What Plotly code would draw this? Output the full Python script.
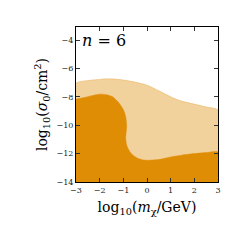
import plotly.graph_objects as go

# Light (outer) region upper boundary
light_x = [-3.0, -2.5, -2.0, -1.8, -1.4, -1.0, -0.5, 0.0, 0.5, 1.0, 1.4, 2.0, 2.5, 3.0]
light_y = [-7.06, -6.86, -6.78, -6.74, -6.75, -6.82, -6.97, -7.18, -7.58, -8.0, -8.28, -8.52, -8.72, -8.94]

# Dark (inner) region boundary (S-shaped curve)
dark_x = [-3.0, -2.8, -2.6, -2.3, -2.0, -1.7, -1.45, -1.2, -1.0, -0.9, -0.86, -0.88, -0.9, -0.86, -0.75, -0.6, -0.4, -0.2, 0.0, 0.5, 1.0, 1.5, 2.0, 2.5, 3.0]
dark_y = [-8.19, -8.1, -8.03, -7.9, -7.81, -7.85, -8.0, -8.4, -8.9, -9.4, -10.0, -10.5, -10.9, -11.4, -11.8, -12.1, -12.32, -12.43, -12.47, -12.42, -12.24, -12.1, -12.0, -11.93, -11.88]

y_floor = -14.0
x_ticks = [-3, -2, -1, 0, 1, 2, 3]
y_ticks = [-14, -12, -10, -8, -6, -4]
panel_label = "<i>n</i> = 6"

DARK = "#DF8D05"
LIGHT = "#F2D29C"

fig = go.Figure()
fig.add_trace(go.Scatter(
    x=[light_x[0]] + light_x + [light_x[-1]],
    y=[y_floor] + light_y + [y_floor],
    fill="toself", fillcolor=LIGHT, mode="lines",
    line=dict(color="#EDBE73", width=0.8, shape="spline", smoothing=0.6),
    hoverinfo="skip", showlegend=False))
fig.add_trace(go.Scatter(
    x=[dark_x[0]] + dark_x + [dark_x[-1]],
    y=[y_floor] + dark_y + [y_floor],
    fill="toself", fillcolor=DARK, mode="lines",
    line=dict(color=DARK, width=0.5, shape="spline", smoothing=0.6),
    hoverinfo="skip", showlegend=False))

serif = "DejaVu Serif, serif"
axis_common = dict(
    showgrid=False, zeroline=False, showline=True, linecolor="black", linewidth=1,
    mirror="ticks", ticks="inside", ticklen=4, tickwidth=1, tickcolor="#333",
    tickfont=dict(family=serif, size=8, color="#222"),
)
fig.update_xaxes(range=[-3, 3], tickvals=x_ticks, ticktext=["−3", "−2", "−1", "0", "1", "2", "3"],
                 title=dict(text="log<sub>10</sub>(<i>m</i><sub>χ</sub>/GeV)",
                            font=dict(family=serif, size=14, color="black"), standoff=8),
                 **axis_common)
fig.update_yaxes(range=[-14, -3.08], tickvals=y_ticks, ticktext=["−14", "−12", "−10", "−8", "−6", "−4"],
                 title=dict(text="log<sub>10</sub>(<i>σ</i><sub>0</sub>/cm<sup>2</sup>)",
                            font=dict(family=serif, size=14, color="black"), standoff=5),
                 **axis_common)
fig.add_annotation(x=0.03, y=0.99, xref="paper", yref="paper", text=panel_label,
                   showarrow=False, xanchor="left", yanchor="top",
                   font=dict(family=serif, size=16, color="black"))
fig.update_layout(width=249, height=249, margin=dict(l=68, r=39, t=19, b=75),
                  plot_bgcolor="white", paper_bgcolor="white")
fig.write_html("out.html")
